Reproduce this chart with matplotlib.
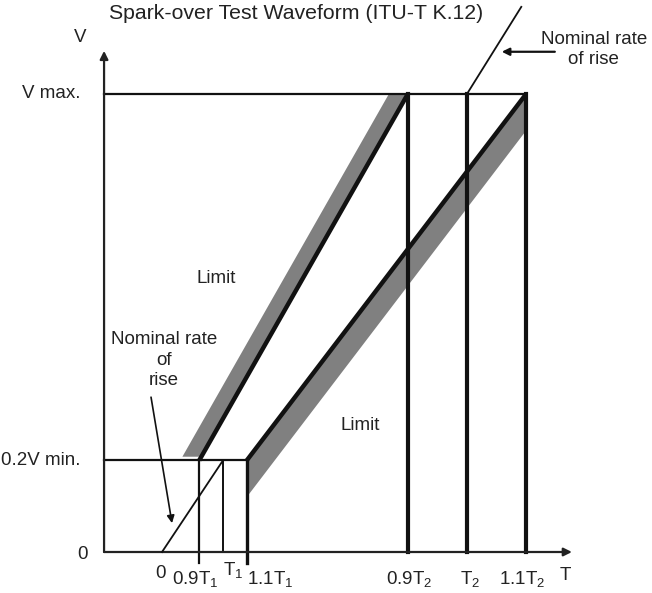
import numpy as np
import matplotlib
matplotlib.use("Agg")
import matplotlib.pyplot as plt
from matplotlib.patches import Polygon

plt.rcParams["font.family"] = ["Liberation Sans", "DejaVu Sans"]
plt.rcParams["mathtext.fontset"] = "custom"
plt.rcParams["mathtext.rm"] = "Liberation Sans"
plt.rcParams["mathtext.it"] = "Liberation Sans:italic"

# schematic time positions (units of T1) and voltage levels (units of V max)
T_NAMES = ["0", "0.9T1", "T1", "1.1T1", "0.9T2", "T2", "1.1T2"]
T_POS = [0.0, 0.61, 1.0, 1.39, 4.03, 5.0, 5.97]
T_LABELS = ["0", r"$\mathrm{0.9T_1}$", r"$\mathrm{T_1}$", r"$\mathrm{1.1T_1}$",
            r"$\mathrm{0.9T_2}$", r"$\mathrm{T_2}$", r"$\mathrm{1.1T_2}$"]
V_LEVELS = [0.0, 0.2, 1.0]
V_LABELS = ["0", "0.2V min.", "V max."]

T_AXIS = -0.95      # where the V axis stands
T_END = 6.72        # tip of the T axis arrow
V_END = 1.094       # tip of the V axis arrow
BAND_SHIFT_T = 0.31 # grey tolerance band left of fast limit
BAND_SHIFT_V = 0.08 # grey tolerance band below slow limit
NOMINAL_TOP = (5.89, 1.19)

t = dict(zip(T_NAMES, T_POS))
v0, v_min, v_max = V_LEVELS

INK = "#111111"
TXT = "#222222"
GREY = "#808080"

fig = plt.figure(figsize=(6.52, 5.93), dpi=100)
ax = fig.add_axes([0, 0, 1, 1])
ax.set_xlim(-2.656, 8.033)
ax.set_ylim(-0.0895, 1.205)
ax.axis("off")

# axes with arrows
arrow = dict(arrowstyle="-|>", lw=1.6, color="#222222", mutation_scale=12,
             shrinkA=0, shrinkB=0)
ax.annotate("", xy=(T_AXIS, V_END), xytext=(T_AXIS, v0), arrowprops=arrow)
ax.annotate("", xy=(T_END, v0), xytext=(T_AXIS, v0), arrowprops=arrow)

# grey tolerance bands
fast = np.array([[t["0.9T1"], v_min], [t["0.9T2"], v_max]])
slow = np.array([[t["1.1T1"], v_min], [t["1.1T2"], v_max]])
v_lo = v_min + 0.008
t_lo = np.interp(v_lo, fast[:, 1], fast[:, 0])
band_a = [(t_lo - BAND_SHIFT_T, v_lo), (t_lo, v_lo),
          (t["0.9T2"], v_max), (t["0.9T2"] - BAND_SHIFT_T, v_max)]
band_b = [(t["1.1T1"], v_min), (t["1.1T2"], v_max),
          (t["1.1T2"], v_max - BAND_SHIFT_V), (t["1.1T1"], v_min - BAND_SHIFT_V)]
for b in (band_a, band_b):
    ax.add_patch(Polygon(b, closed=True, facecolor=GREY, edgecolor="none",
                         joinstyle="round", zorder=1))

# reference levels
ax.plot([T_AXIS, t["1.1T2"]], [v_max, v_max], color=INK, lw=1.6, zorder=2)
ax.plot([T_AXIS, t["1.1T1"]], [v_min, v_min], color=INK, lw=1.6, zorder=2)

# vertical time markers
ax.plot([t["0.9T1"]] * 2, [v_min, -0.024], color=INK, lw=1.6, zorder=2)
ax.plot([t["T1"]] * 2, [v_min, v0], color=INK, lw=1.4, zorder=2)
ax.plot([t["1.1T1"]] * 2, [v_min, -0.024], color=INK, lw=2.4, zorder=2)
for name in ["0.9T2", "T2", "1.1T2"]:
    ax.plot([t[name]] * 2, [v_max, v0], color=INK, lw=3.0, zorder=2)

# limit lines
ax.plot(fast[:, 0], fast[:, 1], color=INK, lw=3.2, zorder=3, solid_capstyle="butt")
ax.plot(slow[:, 0], slow[:, 1], color=INK, lw=3.2, zorder=3, solid_capstyle="butt")

# nominal rate of rise
ax.plot([t["0"], t["T1"]], [v0, v_min], color=INK, lw=1.3, zorder=3)
ax.plot([t["T2"], NOMINAL_TOP[0]], [v_max, NOMINAL_TOP[1]], color=INK, lw=1.3, zorder=3)

fs = 13.5
ax.text(2.197, 1.176, "Spark-over Test Waveform (ITU-T K.12)", fontsize=15.3,
        color=TXT, ha="center", va="center")

# V axis labels
ax.text(-1.344, 1.124, "V", fontsize=fs, color=TXT, ha="center", va="center")
for lev, lab in zip(V_LEVELS, V_LABELS):
    xr = -1.21 if lab == "0" else -1.344
    ax.text(xr, lev - (0.006 if lab == "0" else 0), lab, fontsize=fs,
            color=TXT, ha="right", va="center")

# T axis labels
label_dx = {"0": -0.03, "0.9T1": -0.07, "T1": 0.0, "1.1T1": 0.0,
            "0.9T2": 0.02, "T2": 0.05, "1.1T2": -0.06}
label_ha = {"0": "center", "0.9T1": "center", "T1": "left", "1.1T1": "left",
            "0.9T2": "center", "T2": "center", "1.1T2": "center"}
label_y = {"0": -0.046, "T1": -0.040}
for name, pos, lab in zip(T_NAMES, T_POS, T_LABELS):
    ax.text(pos + label_dx[name], label_y.get(name, -0.058), lab, fontsize=fs,
            color=TXT, ha=label_ha[name], va="center")
ax.text(6.61, -0.052, "T", fontsize=fs, color=TXT, ha="center", va="center")

# annotations
ax.text(0.885, 0.598, "Limit", fontsize=fs, color=TXT, ha="center", va="center")
ax.text(3.246, 0.277, "Limit", fontsize=fs, color=TXT, ha="center", va="center")

ax.text(0.03, 0.419, "Nominal rate\nof\nrise", fontsize=fs, color=TXT,
        ha="center", va="center", linespacing=1.3)
ax.annotate("", xy=(0.164, 0.063), xytext=(-0.18, 0.338),
            arrowprops=dict(arrowstyle="-|>", lw=1.2, color=INK,
                            mutation_scale=11, shrinkA=0, shrinkB=0))

ax.text(7.08, 1.097, "Nominal rate\nof rise", fontsize=fs, color=TXT,
        ha="center", va="center", linespacing=1.3)
ax.annotate("", xy=(5.57, 1.092), xytext=(6.44, 1.092),
            arrowprops=dict(arrowstyle="-|>", lw=1.6, color=INK,
                            mutation_scale=11, shrinkA=0, shrinkB=0))

fig.savefig("out.png", dpi=100)
